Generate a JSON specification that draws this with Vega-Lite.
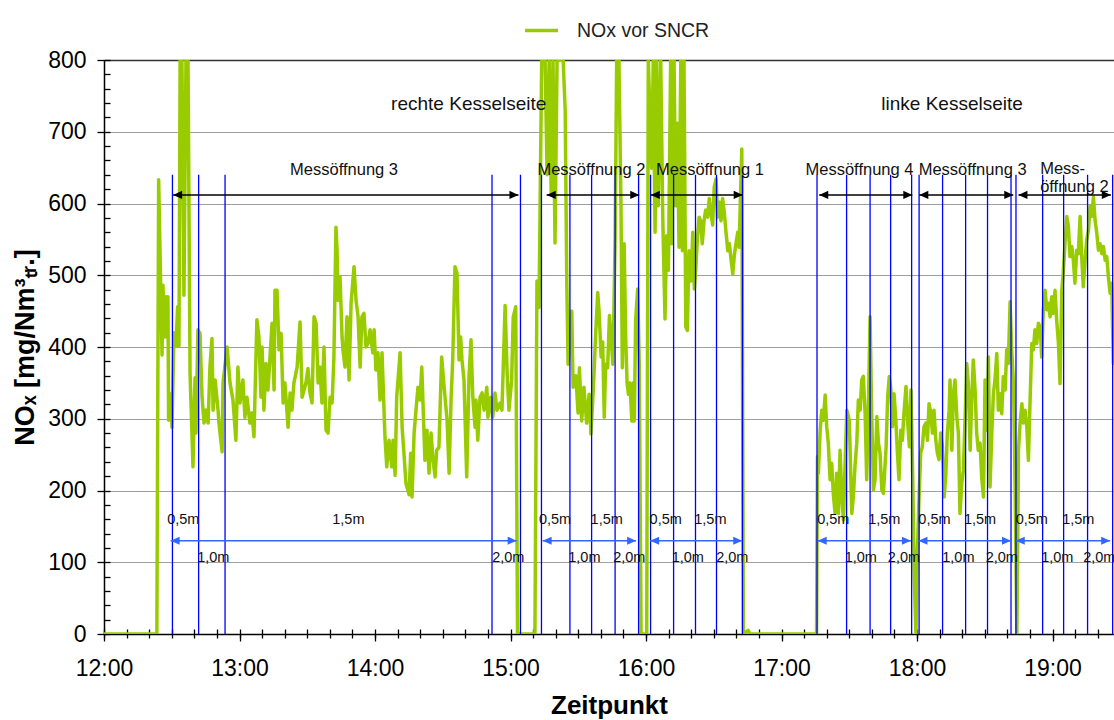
{
"$schema":"https://vega.github.io/schema/vega-lite/v6.json",
"width":1010,"height":574,
"autosize":"none",
"padding":{"left":104,"top":60,"right":0,"bottom":86},
"config":{"font":"Liberation Sans","view":{"stroke":null}},
"datasets":{
"nox":[
{"t":0,"v":0},{"t":23.4,"v":0},{"t":24.2,"v":633},{"t":25.7,"v":389},{"t":26.1,"v":486},{"t":27.0,"v":414},{"t":27.5,"v":470},{"t":27.9,"v":414},{"t":28.3,"v":470},{"t":28.6,"v":298},{"t":29.7,"v":335},{"t":30.1,"v":288},{"t":31.0,"v":420},{"t":31.9,"v":402},{"t":32.6,"v":456},{"t":33.2,"v":402},{"t":33.7,"v":800},{"t":34.5,"v":800},{"t":35.4,"v":472},{"t":36.3,"v":800},{"t":37.2,"v":800},{"t":38.1,"v":364},{"t":39.4,"v":233},{"t":40.3,"v":357},{"t":40.7,"v":280},{"t":41.6,"v":424},{"t":42.5,"v":419},{"t":43.4,"v":330},{"t":44.3,"v":294},{"t":45.2,"v":312},{"t":46.1,"v":294},{"t":46.9,"v":372},{"t":47.8,"v":412},{"t":48.3,"v":312},{"t":49.2,"v":354},{"t":50.5,"v":312},{"t":50.9,"v":294},{"t":52.3,"v":254},{"t":52.7,"v":350},{"t":54.5,"v":400},{"t":55.8,"v":350},{"t":57.1,"v":326},{"t":58.4,"v":270},{"t":59.3,"v":372},{"t":60.2,"v":322},{"t":61.5,"v":354},{"t":62.4,"v":302},{"t":63.3,"v":330},{"t":64.6,"v":294},{"t":65.5,"v":308},{"t":66.4,"v":275},{"t":67.7,"v":438},{"t":68.6,"v":414},{"t":69.5,"v":330},{"t":70.0,"v":400},{"t":70.8,"v":312},{"t":71.7,"v":377},{"t":72.6,"v":340},{"t":73.5,"v":386},{"t":74.4,"v":433},{"t":75.3,"v":340},{"t":75.7,"v":479},{"t":76.6,"v":479},{"t":77.5,"v":396},{"t":78.4,"v":419},{"t":79.3,"v":322},{"t":80.1,"v":350},{"t":81.5,"v":288},{"t":82.4,"v":336},{"t":83.2,"v":312},{"t":84.1,"v":350},{"t":85.5,"v":372},{"t":86.8,"v":435},{"t":87.7,"v":330},{"t":88.6,"v":340},{"t":89.4,"v":350},{"t":90.3,"v":370},{"t":91.2,"v":336},{"t":92.1,"v":322},{"t":93.0,"v":442},{"t":93.9,"v":433},{"t":94.8,"v":350},{"t":95.6,"v":372},{"t":96.5,"v":322},{"t":97.4,"v":400},{"t":98.3,"v":284},{"t":99.2,"v":280},{"t":100.1,"v":330},{"t":101.0,"v":322},{"t":101.8,"v":386},{"t":102.7,"v":567},{"t":103.2,"v":535},{"t":103.6,"v":465},{"t":104.5,"v":498},{"t":105.4,"v":414},{"t":105.8,"v":396},{"t":106.7,"v":372},{"t":107.6,"v":442},{"t":108.5,"v":354},{"t":109.4,"v":461},{"t":110.7,"v":512},{"t":111.6,"v":465},{"t":112.5,"v":442},{"t":113.4,"v":372},{"t":114.2,"v":442},{"t":115.1,"v":447},{"t":116.0,"v":400},{"t":116.9,"v":405},{"t":117.8,"v":424},{"t":119.0,"v":392},{"t":119.6,"v":424},{"t":120.4,"v":368},{"t":121.3,"v":392},{"t":122.2,"v":326},{"t":123.1,"v":392},{"t":124.4,"v":275},{"t":125.2,"v":233},{"t":126.2,"v":270},{"t":127.4,"v":233},{"t":128.0,"v":270},{"t":128.9,"v":221},{"t":129.6,"v":330},{"t":131.1,"v":392},{"t":132.0,"v":288},{"t":132.8,"v":252},{"t":133.7,"v":210},{"t":135.1,"v":194},{"t":135.8,"v":252},{"t":136.4,"v":191},{"t":137.3,"v":280},{"t":139.0,"v":344},{"t":139.9,"v":326},{"t":140.7,"v":372},{"t":142.1,"v":242},{"t":143.0,"v":284},{"t":143.9,"v":224},{"t":144.8,"v":280},{"t":145.7,"v":242},{"t":146.6,"v":219},{"t":147.3,"v":256},{"t":148.3,"v":260},{"t":149.5,"v":386},{"t":150.6,"v":344},{"t":151.9,"v":298},{"t":152.8,"v":224},{"t":153.7,"v":330},{"t":154.4,"v":382},{"t":155.4,"v":512},{"t":156.3,"v":503},{"t":157.2,"v":382},{"t":157.9,"v":414},{"t":158.5,"v":382},{"t":159.4,"v":354},{"t":160.6,"v":219},{"t":161.6,"v":358},{"t":162.5,"v":410},{"t":163.3,"v":330},{"t":164.3,"v":288},{"t":164.7,"v":326},{"t":165.5,"v":270},{"t":166.5,"v":330},{"t":167.4,"v":336},{"t":168.3,"v":312},{"t":169.5,"v":344},{"t":170.0,"v":302},{"t":171.2,"v":330},{"t":172.1,"v":302},{"t":173.1,"v":336},{"t":174.0,"v":312},{"t":175.4,"v":322},{"t":176.2,"v":312},{"t":177.6,"v":458},{"t":178.5,"v":363},{"t":179.3,"v":312},{"t":180.5,"v":354},{"t":181.2,"v":442},{"t":182.3,"v":456},{"t":183.1,"v":0},{"t":190.8,"v":0},{"t":191.7,"v":492},{"t":192.6,"v":455},{"t":193.8,"v":800},{"t":195.3,"v":800},{"t":196.2,"v":640},{"t":197.1,"v":800},{"t":198.0,"v":615},{"t":198.8,"v":800},{"t":199.7,"v":545},{"t":200.6,"v":800},{"t":201.9,"v":800},{"t":203.3,"v":800},{"t":204.2,"v":730},{"t":204.9,"v":492},{"t":205.5,"v":376},{"t":207.1,"v":450},{"t":207.7,"v":344},{"t":208.9,"v":360},{"t":209.9,"v":308},{"t":210.5,"v":371},{"t":211.5,"v":297},{"t":212.5,"v":344},{"t":213.7,"v":294},{"t":214.8,"v":334},{"t":215.6,"v":279},{"t":216.7,"v":344},{"t":217.7,"v":418},{"t":218.6,"v":476},{"t":219.2,"v":450},{"t":220.1,"v":386},{"t":220.8,"v":407},{"t":221.5,"v":302},{"t":222.1,"v":376},{"t":223.0,"v":371},{"t":223.8,"v":444},{"t":224.5,"v":413},{"t":225.3,"v":376},{"t":225.7,"v":439},{"t":226.3,"v":549},{"t":227.0,"v":800},{"t":228.0,"v":800},{"t":228.9,"v":597},{"t":229.5,"v":371},{"t":230.3,"v":544},{"t":231.0,"v":413},{"t":231.6,"v":350},{"t":232.2,"v":334},{"t":232.9,"v":350},{"t":233.7,"v":297},{"t":234.4,"v":350},{"t":234.8,"v":297},{"t":235.4,"v":439},{"t":236.3,"v":481},{"t":237.0,"v":376},{"t":237.8,"v":0},{"t":240.3,"v":0},{"t":241.0,"v":800},{"t":242.5,"v":649},{"t":243.2,"v":800},{"t":244.0,"v":560},{"t":244.7,"v":800},{"t":245.4,"v":597},{"t":246.5,"v":800},{"t":247.4,"v":581},{"t":248.4,"v":439},{"t":249.1,"v":555},{"t":249.9,"v":507},{"t":250.9,"v":800},{"t":251.4,"v":544},{"t":252.4,"v":800},{"t":253.1,"v":597},{"t":253.9,"v":712},{"t":254.6,"v":539},{"t":255.4,"v":800},{"t":256.1,"v":534},{"t":256.8,"v":800},{"t":257.6,"v":428},{"t":258.3,"v":423},{"t":259.0,"v":534},{"t":259.9,"v":492},{"t":260.7,"v":560},{"t":261.4,"v":481},{"t":262.0,"v":507},{"t":262.7,"v":549},{"t":263.5,"v":581},{"t":264.2,"v":576},{"t":264.9,"v":544},{"t":265.7,"v":576},{"t":266.4,"v":591},{"t":267.3,"v":581},{"t":268.0,"v":607},{"t":268.8,"v":586},{"t":269.5,"v":570},{"t":270.2,"v":623},{"t":271.0,"v":634},{"t":271.7,"v":581},{"t":272.4,"v":602},{"t":273.2,"v":576},{"t":273.9,"v":607},{"t":274.7,"v":586},{"t":275.4,"v":560},{"t":276.2,"v":534},{"t":276.9,"v":544},{"t":277.6,"v":523},{"t":278.4,"v":502},{"t":279.1,"v":528},{"t":279.8,"v":544},{"t":280.6,"v":560},{"t":281.2,"v":539},{"t":281.8,"v":607},{"t":282.4,"v":676},{"t":283.1,"v":0},{"t":285.2,"v":5},{"t":286.1,"v":0},{"t":315.5,"v":0},{"t":315.9,"v":247},{"t":316.3,"v":224},{"t":317.1,"v":284},{"t":317.8,"v":312},{"t":318.5,"v":298},{"t":319.3,"v":333},{"t":320.0,"v":289},{"t":320.7,"v":266},{"t":321.5,"v":215},{"t":322.2,"v":238},{"t":322.9,"v":196},{"t":323.7,"v":168},{"t":324.4,"v":224},{"t":325.2,"v":168},{"t":325.9,"v":256},{"t":326.7,"v":191},{"t":327.4,"v":159},{"t":328.1,"v":233},{"t":328.9,"v":312},{"t":330.0,"v":298},{"t":331.1,"v":168},{"t":331.8,"v":191},{"t":332.5,"v":233},{"t":333.3,"v":266},{"t":334.0,"v":326},{"t":334.8,"v":312},{"t":335.5,"v":354},{"t":336.2,"v":359},{"t":337.0,"v":308},{"t":337.7,"v":215},{"t":338.4,"v":308},{"t":339.2,"v":442},{"t":339.9,"v":308},{"t":340.7,"v":201},{"t":341.4,"v":215},{"t":342.2,"v":303},{"t":342.9,"v":266},{"t":343.6,"v":252},{"t":344.4,"v":201},{"t":345.1,"v":196},{"t":346.3,"v":261},{"t":347.0,"v":331},{"t":347.7,"v":359},{"t":348.4,"v":340},{"t":349.1,"v":289},{"t":349.8,"v":335},{"t":350.6,"v":298},{"t":351.3,"v":252},{"t":352.0,"v":215},{"t":352.8,"v":284},{"t":353.5,"v":270},{"t":354.2,"v":308},{"t":355.1,"v":345},{"t":355.8,"v":298},{"t":356.6,"v":261},{"t":357.3,"v":340},{"t":358.1,"v":215},{"t":358.8,"v":75},{"t":359.5,"v":0},{"t":360.1,"v":112},{"t":360.9,"v":191},{"t":361.6,"v":252},{"t":362.3,"v":261},{"t":363.1,"v":289},{"t":363.9,"v":294},{"t":364.6,"v":270},{"t":365.3,"v":321},{"t":366.1,"v":308},{"t":366.8,"v":280},{"t":367.5,"v":312},{"t":368.3,"v":270},{"t":369.0,"v":252},{"t":369.7,"v":243},{"t":370.5,"v":280},{"t":371.2,"v":261},{"t":372.0,"v":191},{"t":372.7,"v":219},{"t":373.4,"v":280},{"t":374.2,"v":312},{"t":374.6,"v":354},{"t":375.4,"v":256},{"t":376.1,"v":335},{"t":376.8,"v":354},{"t":377.6,"v":303},{"t":378.3,"v":280},{"t":379.0,"v":168},{"t":379.8,"v":210},{"t":380.5,"v":228},{"t":381.3,"v":303},{"t":382.0,"v":377},{"t":382.7,"v":349},{"t":383.5,"v":256},{"t":384.2,"v":326},{"t":384.9,"v":382},{"t":385.7,"v":340},{"t":386.4,"v":280},{"t":387.1,"v":256},{"t":387.9,"v":266},{"t":388.6,"v":219},{"t":389.4,"v":191},{"t":390.1,"v":354},{"t":390.8,"v":284},{"t":391.6,"v":386},{"t":392.3,"v":205},{"t":393.1,"v":280},{"t":393.8,"v":335},{"t":394.5,"v":354},{"t":395.3,"v":391},{"t":396.0,"v":312},{"t":396.8,"v":335},{"t":397.5,"v":307},{"t":398.2,"v":359},{"t":399.0,"v":340},{"t":399.7,"v":396},{"t":400.4,"v":377},{"t":401.2,"v":463},{"t":401.9,"v":396},{"t":402.7,"v":349},{"t":403.4,"v":210},{"t":404.2,"v":0},{"t":404.9,"v":256},{"t":405.6,"v":294},{"t":406.4,"v":321},{"t":407.1,"v":294},{"t":407.8,"v":312},{"t":408.6,"v":289},{"t":409.3,"v":242},{"t":410.0,"v":321},{"t":410.8,"v":405},{"t":411.5,"v":396},{"t":412.2,"v":424},{"t":413.0,"v":405},{"t":413.7,"v":433},{"t":414.5,"v":428},{"t":415.2,"v":386},{"t":415.9,"v":452},{"t":416.7,"v":479},{"t":417.4,"v":452},{"t":418.1,"v":461},{"t":418.9,"v":442},{"t":419.6,"v":470},{"t":420.3,"v":447},{"t":421.1,"v":479},{"t":421.8,"v":438},{"t":422.6,"v":405},{"t":423.3,"v":349},{"t":424.1,"v":479},{"t":424.8,"v":507},{"t":425.5,"v":544},{"t":426.3,"v":582},{"t":427.0,"v":568},{"t":427.7,"v":526},{"t":428.5,"v":540},{"t":429.2,"v":521},{"t":429.9,"v":489},{"t":430.7,"v":535},{"t":431.4,"v":530},{"t":432.2,"v":582},{"t":432.9,"v":526},{"t":433.6,"v":484},{"t":434.4,"v":521},{"t":435.1,"v":549},{"t":435.9,"v":563},{"t":436.6,"v":596},{"t":437.3,"v":582},{"t":438.1,"v":609},{"t":438.8,"v":577},{"t":439.6,"v":558},{"t":440.3,"v":535},{"t":441.0,"v":544},{"t":441.8,"v":530},{"t":442.5,"v":540},{"t":443.3,"v":521},{"t":444.0,"v":526},{"t":444.7,"v":498},{"t":445.5,"v":475},{"t":446.2,"v":489},{"t":446.9,"v":377},{"t":447.6,"v":395}
],
"marks":[{"t":30.3},{"t":41.9},{"t":53.6},{"t":171.8},{"t":184.4},{"t":193.7},{"t":206.3},{"t":215.9},{"t":226.3},{"t":236.7},{"t":242.0},{"t":252.2},{"t":261.9},{"t":271.2},{"t":282.7},{"t":315.7},{"t":328.8},{"t":339.2},{"t":348.3},{"t":357.6},{"t":360.9},{"t":371.3},{"t":381.5},{"t":391.2},{"t":401.6},{"t":403.8},{"t":415.6},{"t":424.9},{"t":435.5},{"t":446.6}],
"black":[{"s":30.6,"e":183.5},{"s":196.0,"e":237.0},{"s":242.1,"e":282.8},{"s":316.7,"e":357.9},{"s":361.0,"e":402.6},{"s":404.9,"e":445.8}],
"blue":[{"s":29.5,"e":182.7},{"s":194.2,"e":235.6},{"s":241.8,"e":282.6},{"s":316.0,"e":357.3},{"s":360.6,"e":401.6},{"s":403.7,"e":445.5}],
"txt":[
{"k":"region","t":161.5,"v":730,"text":"rechte Kesselseite"},{"k":"region","t":375.5,"v":730,"text":"linke Kesselseite"},
{"k":"mess","t":106.3,"v":640,"text":"Messöffnung 3"},{"k":"mess","t":215.8,"v":640,"text":"Messöffnung 2"},{"k":"mess","t":268.3,"v":640,"text":"Messöffnung 1"},{"k":"mess","t":334.5,"v":640,"text":"Messöffnung 4"},{"k":"mess","t":384.6,"v":640,"text":"Messöffnung 3"},
{"k":"left","t":414.5,"v":641,"text":"Mess-"},{"k":"left","t":414.5,"v":616.5,"text":"öffnung 2"},
{"k":"dist","t":35.1,"v":153,"text":"0,5m"},{"k":"dist","t":48.4,"v":100,"text":"1,0m"},{"k":"dist","t":108.2,"v":153,"text":"1,5m"},{"k":"dist","t":179.0,"v":100,"text":"2,0m"},
{"k":"dist","t":199.7,"v":153,"text":"0,5m"},{"k":"dist","t":212.7,"v":100,"text":"1,0m"},{"k":"dist","t":222.6,"v":153,"text":"1,5m"},{"k":"dist","t":232.6,"v":100,"text":"2,0m"},
{"k":"dist","t":248.7,"v":153,"text":"0,5m"},{"k":"dist","t":258.5,"v":100,"text":"1,0m"},{"k":"dist","t":268.5,"v":153,"text":"1,5m"},{"k":"dist","t":278.2,"v":100,"text":"2,0m"},
{"k":"dist","t":322.9,"v":153,"text":"0,5m"},{"k":"dist","t":335.1,"v":100,"text":"1,0m"},{"k":"dist","t":345.5,"v":153,"text":"1,5m"},{"k":"dist","t":354.2,"v":100,"text":"2,0m"},
{"k":"dist","t":367.7,"v":153,"text":"0,5m"},{"k":"dist","t":378.3,"v":100,"text":"1,0m"},{"k":"dist","t":387.9,"v":153,"text":"1,5m"},{"k":"dist","t":397.5,"v":100,"text":"2,0m"},
{"k":"dist","t":410.8,"v":153,"text":"0,5m"},{"k":"dist","t":422.1,"v":100,"text":"1,0m"},{"k":"dist","t":431.4,"v":153,"text":"1,5m"},{"k":"dist","t":440.7,"v":100,"text":"2,0m"}
]
},
"resolve":{"axis":{"x":"independent","y":"independent"}},
"layer":[
{"data":{"name":"nox"},
 "mark":{"type":"line","color":"#99cc00","strokeWidth":3.5,"clip":true,"strokeJoin":"round"},
 "encoding":{
  "x":{"field":"t","type":"quantitative","scale":{"domain":[0,447.2],"nice":false,"zero":false},
   "axis":{"orient":"bottom","values":[0,60,120,180,240,300,360,420],"labelExpr":"(12 + datum.value/60) + ':00'","labelFlush":false,"tickSize":7,"tickColor":"#000","tickWidth":1.3,"domainColor":"#000","domainWidth":1.5,"labelFontSize":23,"labelColor":"#000","labelPadding":16,"grid":false,"title":"Zeitpunkt","titleFontSize":26,"titleFontWeight":"bold","titleColor":"#000","titlePadding":12}},
  "y":{"field":"v","type":"quantitative","scale":{"domain":[0,800],"nice":false},
   "axis":{"orient":"left","values":[0,100,200,300,400,500,600,700,800],"tickSize":7,"tickColor":"#000","tickWidth":1.3,"domainColor":"#000","domainWidth":1.5,"labelFontSize":23,"labelColor":"#000","labelPadding":11,"grid":true,"gridColor":"#a0a0a0","gridWidth":1,"title":"NOₓ [mg/Nm³ₜᵣ.]","titleFontSize":27,"titleFontWeight":"bold","titleColor":"#000","titlePadding":8}},
  "color":{"datum":"NOx vor SNCR","type":"nominal","scale":{"range":["#99cc00"]},
   "legend":{"orient":"none","legendX":419,"legendY":-48,"padding":0,"title":null,"symbolType":"stroke","symbolSize":1089,"symbolStrokeWidth":3.5,"labelFontSize":19.5,"labelColor":"#222","labelOffset":17}}
 }},
{"data":{"name":"marks"},
 "mark":{"type":"rule","color":"#0000ff","strokeWidth":1.3},
 "encoding":{
  "x":{"field":"t","type":"quantitative","axis":{"orient":"bottom","values":[0,10,20,30,40,50,60,70,80,90,100,110,120,130,140,150,160,170,180,190,200,210,220,230,240,250,260,270,280,290,300,310,320,330,340,350,360,370,380,390,400,410,420,430,440],"tickSize":4,"tickColor":"#000","tickWidth":1.3,"domain":false,"labels":false,"grid":false,"title":null}},
  "y":{"datum":0,"type":"quantitative","axis":{"orient":"left","values":[0,20,40,60,80,100,120,140,160,180,200,220,240,260,280,300,320,340,360,380,400,420,440,460,480,500,520,540,560,580,600,620,640,660,680,700,720,740,760,780,800],"tickSize":-6,"tickColor":"#000","tickWidth":1.3,"domain":false,"labels":false,"grid":false,"title":null}},
  "y2":{"datum":640}
 }},
{"data":{"name":"black"},
 "mark":{"type":"rule","color":"#000","strokeWidth":1.5},
 "encoding":{
  "x":{"field":"s","type":"quantitative","axis":{"orient":"bottom","values":[0,10,20,30,40,50,60,70,80,90,100,110,120,130,140,150,160,170,180,190,200,210,220,230,240,250,260,270,280,290,300,310,320,330,340,350,360,370,380,390,400,410,420,430,440],"tickSize":-5,"tickColor":"#000","tickWidth":1.3,"domain":false,"labels":false,"grid":false,"title":null}},
  "x2":{"field":"e"},
  "y":{"datum":612,"type":"quantitative","axis":null}
 }},
{"data":{"name":"black"},
 "mark":{"type":"point","shape":"M0,0L1,-0.45L1,0.45Z","size":324,"filled":true,"color":"#000","opacity":1},
 "encoding":{"x":{"field":"s","type":"quantitative","axis":null},"y":{"datum":612,"type":"quantitative","axis":null}}},
{"data":{"name":"black"},
 "mark":{"type":"point","shape":"M0,0L-1,-0.45L-1,0.45Z","size":324,"filled":true,"color":"#000","opacity":1},
 "encoding":{"x":{"field":"e","type":"quantitative","axis":null},"y":{"datum":612,"type":"quantitative","axis":null}}},
{"data":{"name":"blue"},
 "mark":{"type":"rule","color":"#3366ff","strokeWidth":1.5},
 "encoding":{
  "x":{"field":"s","type":"quantitative","axis":{"orient":"top","domain":true,"domainColor":"#333","domainWidth":1.5,"ticks":false,"labels":false,"grid":false,"title":null}},
  "x2":{"field":"e"},
  "y":{"datum":130,"type":"quantitative","axis":null}
 }},
{"data":{"name":"blue"},
 "mark":{"type":"point","shape":"M0,0L1,-0.45L1,0.45Z","size":324,"filled":true,"color":"#3366ff","opacity":1},
 "encoding":{"x":{"field":"s","type":"quantitative","axis":null},"y":{"datum":130,"type":"quantitative","axis":null}}},
{"data":{"name":"blue"},
 "mark":{"type":"point","shape":"M0,0L-1,-0.45L-1,0.45Z","size":324,"filled":true,"color":"#3366ff","opacity":1},
 "encoding":{"x":{"field":"e","type":"quantitative","axis":null},"y":{"datum":130,"type":"quantitative","axis":null}}},
{"data":{"name":"txt"},"transform":[{"filter":"datum.k == 'region'"}],
 "mark":{"type":"text","fontSize":19,"color":"#111","align":"center","baseline":"alphabetic"},
 "encoding":{"x":{"field":"t","type":"quantitative","axis":null},"y":{"field":"v","type":"quantitative","axis":null},"text":{"field":"text"}}},
{"data":{"name":"txt"},"transform":[{"filter":"datum.k == 'mess'"}],
 "mark":{"type":"text","fontSize":16.5,"color":"#111","align":"center","baseline":"alphabetic"},
 "encoding":{"x":{"field":"t","type":"quantitative","axis":null},"y":{"field":"v","type":"quantitative","axis":null},"text":{"field":"text"}}},
{"data":{"name":"txt"},"transform":[{"filter":"datum.k == 'left'"}],
 "mark":{"type":"text","fontSize":16.5,"color":"#111","align":"left","baseline":"alphabetic"},
 "encoding":{"x":{"field":"t","type":"quantitative","axis":null},"y":{"field":"v","type":"quantitative","axis":null},"text":{"field":"text"}}},
{"data":{"name":"txt"},"transform":[{"filter":"datum.k == 'dist'"}],
 "mark":{"type":"text","fontSize":14.5,"color":"#111","align":"center","baseline":"alphabetic"},
 "encoding":{"x":{"field":"t","type":"quantitative","axis":null},"y":{"field":"v","type":"quantitative","axis":null},"text":{"field":"text"}}}
]
}
